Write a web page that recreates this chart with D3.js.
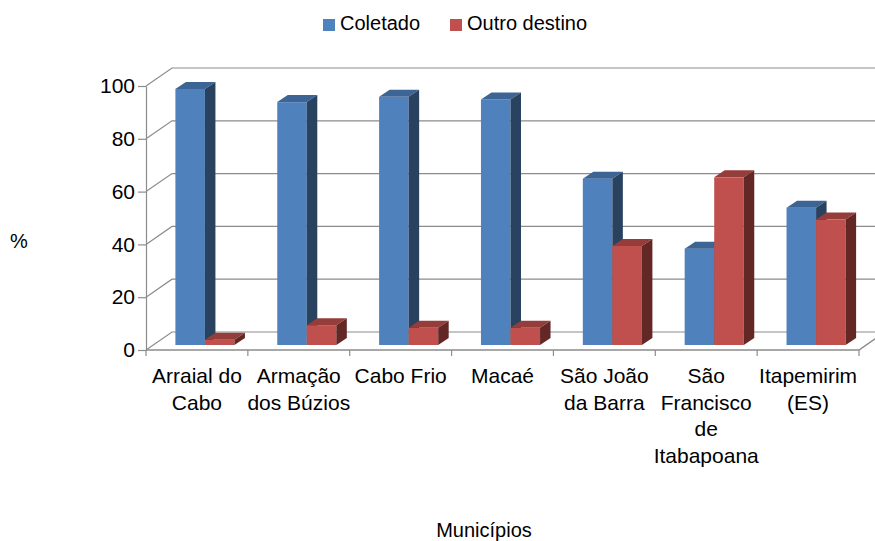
<!DOCTYPE html>
<html>
<head>
<meta charset="utf-8">
<script src="https://cdn.jsdelivr.net/npm/d3@7"></script>
<style>
  body { margin: 0; background: #fff; }
  text { font-family: "Liberation Sans", Arial, sans-serif; }
</style>
</head>
<body>
<script>
// values
const categories = ["Arraial do Cabo", "Armação dos Búzios", "Cabo Frio", "Macaé",
                    "São João da Barra", "São Francisco de Itabapoana", "Itapemirim (ES)"];
const coletado = [97, 92, 94, 93, 63, 36.5, 52];
const outroDestino = [2, 7.5, 6.5, 6.5, 37.5, 63.5, 47.5];
const seriesNames = ["Coletado", "Outro destino"];
const yTicks = [0, 20, 40, 60, 80, 100];

const width = 875, height = 541;

const colors = [
    {front: "#4f81bd", top: "#3c6494", side: "#29425f"},
    {front: "#c0504d", top: "#953d3a", side: "#632826"}
];

const svg = d3.select("body").append("svg")
    .attr("width", width)
    .attr("height", height);

const x = d3.scaleBand()
    .domain(categories)
    .range([146, 859]);

const y = d3.scaleLinear()
    .domain([0, 100])
    .range([350, 86]);

// 3d offsets
const wall = {dx: 26, dy: -18};     // front plane -> back wall
const shift = {dx: 8, dy: -5};      // front plane -> bar front face
const depth = {dx: 10.5, dy: -7};   // bar front face -> bar back face
const barW = x.bandwidth() * 0.29;
const grid = "#8c8c8c";

// back wall gridlines + left wall diagonals
svg.append("g")
    .selectAll("path")
    .data(yTicks)
    .join("path")
        .attr("d", d => `M${x.range()[0]},${y(d)}l${wall.dx},${wall.dy}H${width + 20}`)
        .attr("fill", "none")
        .attr("stroke", grid)
        .attr("stroke-width", 1.2);

// floor front edge + right diagonal
svg.append("path")
    .attr("d", `M${x.range()[0]},${y(0)}H${x.range()[1]}l${wall.dx},${wall.dy}`)
    .attr("fill", "none")
    .attr("stroke", grid)
    .attr("stroke-width", 1.5);

// category ticks at band boundaries
svg.append("g")
    .selectAll("line")
    .data(categories.map(c => x(c)).concat([x.range()[1]]))
    .join("line")
        .attr("x1", d => d).attr("x2", d => d)
        .attr("y1", y(0)).attr("y2", y(0) + 6)
        .attr("stroke", grid)
        .attr("stroke-width", 1.2);

// y axis
const yAxis = svg.append("g")
    .attr("transform", `translate(${x.range()[0]},0)`)
    .call(d3.axisLeft(y).tickValues(yTicks).tickSize(8).tickSizeOuter(0).tickPadding(3));
yAxis.selectAll("path, line").attr("stroke", grid).attr("stroke-width", 1.2);
yAxis.selectAll("text")
    .attr("fill", "#000")
    .style("font-size", "21px")
    .style("font-family", "'Liberation Sans', Arial, sans-serif");

// bars
const bars = [];
categories.forEach((c, i) => {
    [coletado[i], outroDestino[i]].forEach((v, s) => {
        bars.push({cat: c, value: v, s: s});
    });
});

const barG = svg.append("g");
bars.forEach(d => {
    const x0 = x(d.cat) + x.bandwidth() / 2 + shift.dx - barW + d.s * barW;
    const x1 = x0 + barW;
    const yb = y(0) + shift.dy;
    const yt = y(d.value) + shift.dy;
    const col = colors[d.s];
    const g = barG.append("g");
    g.append("rect")
        .attr("x", x0).attr("y", yt)
        .attr("width", barW).attr("height", yb - yt)
        .attr("fill", col.front);
    g.append("path")
        .attr("d", `M${x0},${yt}l${depth.dx},${depth.dy}H${x1 + depth.dx}L${x1},${yt}Z`)
        .attr("fill", col.top);
    g.append("path")
        .attr("d", `M${x1},${yt}l${depth.dx},${depth.dy}V${yb + depth.dy}L${x1},${yb}Z`)
        .attr("fill", col.side);
});

// category labels, wrapped
const labelG = svg.append("g");
categories.forEach(c => {
    const t = labelG.append("text")
        .attr("x", x(c) + x.bandwidth() / 2)
        .attr("y", 383)
        .attr("text-anchor", "middle")
        .style("font-size", "21px");
    const words = c.split(" ");
    let line = [];
    let lineNo = 0;
    let tspan = t.append("tspan").attr("x", x(c) + x.bandwidth() / 2).attr("dy", 0);
    words.forEach(w => {
        line.push(w);
        tspan.text(line.join(" "));
        if (tspan.node().getComputedTextLength() > 110 && line.length > 1) {
            line.pop();
            tspan.text(line.join(" "));
            line = [w];
            lineNo++;
            tspan = t.append("tspan")
                .attr("x", x(c) + x.bandwidth() / 2)
                .attr("dy", 26.5)
                .text(w);
        }
    });
});

// legend
const legend = svg.append("g");
const legendX = [323, 450];
seriesNames.forEach((name, s) => {
    legend.append("rect")
        .attr("x", legendX[s]).attr("y", 19)
        .attr("width", 12).attr("height", 12)
        .attr("fill", colors[s].front);
    legend.append("text")
        .attr("x", legendX[s] + 17).attr("y", 30)
        .style("font-size", "20px")
        .text(name);
});

// axis titles
svg.append("text")
    .attr("x", 10).attr("y", 248)
    .style("font-size", "20px")
    .text("%");

svg.append("text")
    .attr("x", 484).attr("y", 537)
    .attr("text-anchor", "middle")
    .style("font-size", "20px")
    .text("Municípios");
</script>
</body>
</html>
